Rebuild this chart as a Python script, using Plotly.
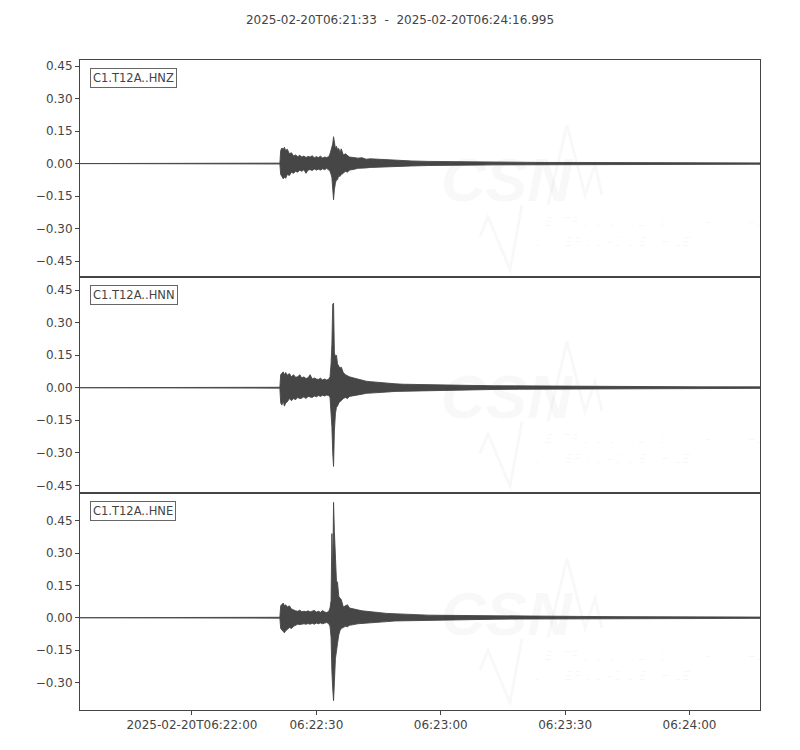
import plotly.graph_objects as go
from plotly.subplots import make_subplots
import pandas as pd

# ---------------- data ----------------
TITLE = "2025-02-20T06:21:33\u00a0\u00a0-\u00a0\u00a02025-02-20T06:24:16.995"
START = "2025-02-20 06:21:33"
END = "2025-02-20 06:24:16.995"
channels = ["C1.T12A..HNZ", "C1.T12A..HNN", "C1.T12A..HNE"]

# seconds after START at which the envelope of each trace was read
t_offsets = [0, 48.2, 48.4, 48.7, 49.0, 49.3, 49.6, 50.0, 50.5, 51, 51.5, 52, 52.5, 53, 53.5,
             54, 54.5, 55, 55.5, 56, 56.5, 57, 57.5, 58, 58.5, 59, 59.5, 60, 60.3, 60.55,
             60.75, 60.95, 61.15, 61.35, 61.6, 61.85, 62.1, 62.4, 62.7, 63, 63.5, 64, 64.5,
             65, 66, 67, 68, 69, 70, 72, 74, 76, 78, 80, 84, 88, 92, 96, 100, 106, 112,
             120, 130, 140, 150, 163.995]

hnz_upper = [0, 0.002, 0.06, 0.072, 0.065, 0.075, 0.06, 0.066, 0.045, 0.05, 0.035, 0.04, 0.032,
             0.038, 0.03, 0.035, 0.028, 0.033, 0.03, 0.036, 0.027, 0.032, 0.028, 0.034, 0.026,
             0.03, 0.028, 0.032, 0.045, 0.06, 0.075, 0.09, 0.124, 0.085, 0.07, 0.08, 0.065,
             0.07, 0.05, 0.068, 0.04, 0.045, 0.035, 0.03, 0.028, 0.025, 0.027, 0.02, 0.022,
             0.02, 0.016, 0.017, 0.013, 0.012, 0.01, 0.009, 0.008, 0.007, 0.006, 0.006,
             0.005, 0.005, 0.004, 0.004, 0.003, 0.003]
hnz_lower = [0, -0.002, -0.05, -0.06, -0.07, -0.062, -0.068, -0.05, -0.055, -0.04, -0.045,
             -0.035, -0.04, -0.03, -0.036, -0.028, -0.045, -0.03, -0.028, -0.032, -0.025,
             -0.03, -0.026, -0.03, -0.024, -0.028, -0.022, -0.03, -0.035, -0.05, -0.065,
             -0.10, -0.167, -0.12, -0.09, -0.075, -0.075, -0.055, -0.06, -0.05, -0.045,
             -0.035, -0.04, -0.03, -0.027, -0.022, -0.02, -0.02, -0.018, -0.017, -0.015,
             -0.013, -0.012, -0.011, -0.009, -0.008, -0.007, -0.007, -0.006, -0.005,
             -0.005, -0.004, -0.004, -0.003, -0.003, -0.003]

hnn_upper = [0, 0.002, 0.06, 0.065, 0.073, 0.06, 0.07, 0.058, 0.065, 0.05, 0.06, 0.048, 0.05,
             0.06, 0.045, 0.05, 0.042, 0.046, 0.06, 0.04, 0.045, 0.04, 0.038, 0.044, 0.036,
             0.04, 0.035, 0.04, 0.05, 0.11, 0.2, 0.385, 0.39, 0.16, 0.145, 0.15, 0.11, 0.1,
             0.09, 0.095, 0.07, 0.06, 0.055, 0.05, 0.045, 0.04, 0.032, 0.03, 0.028, 0.024,
             0.02, 0.018, 0.016, 0.015, 0.013, 0.012, 0.011, 0.01, 0.009, 0.008, 0.007,
             0.006, 0.005, 0.005, 0.004, 0.004]
hnn_lower = [0, -0.002, -0.07, -0.08, -0.06, -0.085, -0.07, -0.065, -0.05, -0.06, -0.05,
             -0.055, -0.045, -0.05, -0.048, -0.042, -0.05, -0.04, -0.044, -0.045, -0.038,
             -0.042, -0.036, -0.04, -0.035, -0.038, -0.034, -0.036, -0.045, -0.08, -0.18,
             -0.3, -0.363, -0.2, -0.12, -0.09, -0.085, -0.07, -0.065, -0.06, -0.05, -0.045,
             -0.05, -0.04, -0.036, -0.034, -0.03, -0.026, -0.025, -0.022, -0.02, -0.017,
             -0.015, -0.014, -0.012, -0.011, -0.01, -0.009, -0.008, -0.007, -0.006, -0.006,
             -0.005, -0.004, -0.004, -0.003]

hne_upper = [0, 0.002, 0.055, 0.06, 0.068, 0.055, 0.06, 0.05, 0.055, 0.04, 0.035, 0.032, 0.03,
             0.035, 0.028, 0.03, 0.028, 0.032, 0.027, 0.03, 0.034, 0.026, 0.03, 0.025, 0.033,
             0.027, 0.024, 0.03, 0.045, 0.08, 0.39, 0.2, 0.535, 0.4, 0.245, 0.17, 0.165, 0.1,
             0.09, 0.085, 0.05, 0.055, 0.06, 0.045, 0.04, 0.035, 0.032, 0.03, 0.027, 0.024,
             0.02, 0.018, 0.015, 0.014, 0.012, 0.011, 0.01, 0.009, 0.008, 0.007, 0.006,
             0.006, 0.005, 0.004, 0.004, 0.003]
hne_lower = [0, -0.002, -0.05, -0.055, -0.063, -0.07, -0.06, -0.055, -0.045, -0.05, -0.04,
             -0.035, -0.03, -0.032, -0.03, -0.028, -0.03, -0.027, -0.03, -0.026, -0.03,
             -0.025, -0.028, -0.024, -0.028, -0.025, -0.022, -0.028, -0.04, -0.09, -0.25,
             -0.33, -0.385, -0.3, -0.19, -0.17, -0.12, -0.08, -0.06, -0.05, -0.045, -0.04,
             -0.042, -0.035, -0.032, -0.028, -0.026, -0.024, -0.022, -0.02, -0.018, -0.015,
             -0.013, -0.012, -0.01, -0.009, -0.008, -0.008, -0.007, -0.006, -0.005, -0.005,
             -0.004, -0.004, -0.003, -0.003]

uppers = [hnz_upper, hnn_upper, hne_upper]
lowers = [hnz_lower, hnn_lower, hne_lower]

y_ranges = [[-0.522, 0.478], [-0.487, 0.512], [-0.428, 0.577]]
y_ticks = [[-0.45, -0.30, -0.15, 0.0, 0.15, 0.30, 0.45],
           [-0.45, -0.30, -0.15, 0.0, 0.15, 0.30, 0.45],
           [-0.30, -0.15, 0.0, 0.15, 0.30, 0.45]]

x_tick_vals = ["2025-02-20 06:22:00", "2025-02-20 06:22:30", "2025-02-20 06:23:00",
               "2025-02-20 06:23:30", "2025-02-20 06:24:00"]
x_tick_text = ["2025-02-20T06:22:00", "06:22:30", "06:23:00", "06:23:30", "06:24:00"]

# ---------------- figure ----------------
INK = "#444444"
WAVE = "#464646"
FONT = "DejaVu Sans"

times = pd.Timestamp(START) + pd.to_timedelta(t_offsets, unit="s")
tstr = [t.strftime("%Y-%m-%d %H:%M:%S.%f")[:-3] for t in times]

fig = make_subplots(rows=3, cols=1, shared_xaxes=True, vertical_spacing=0)

for i in range(3):
    up, lo = uppers[i], lowers[i]
    xs = tstr + tstr[::-1]
    ys = up + lo[::-1]
    fig.add_trace(go.Scatter(x=xs, y=ys, mode="lines", fill="toself",
                             fillcolor=WAVE, line=dict(color=WAVE, width=0.9),
                             hoverinfo="skip", showlegend=False), row=i + 1, col=1)

for i in range(3):
    r = i + 1
    fig.update_yaxes(row=r, col=1, range=y_ranges[i], tickvals=y_ticks[i], tickformat=".2f",
                     ticks="outside", ticklen=4, tickcolor=INK, tickwidth=1,
                     showline=True, mirror=True, linecolor=INK, linewidth=1,
                     showgrid=False, zeroline=False,
                     tickfont=dict(family=FONT, size=12, color=INK))
    fig.update_xaxes(row=r, col=1, type="date", range=[START, END],
                     showline=True, mirror=True, linecolor=INK, linewidth=1,
                     showgrid=False, zeroline=False,
                     tickvals=x_tick_vals, ticktext=x_tick_text,
                     ticks="outside" if r == 3 else "", ticklen=4, tickcolor=INK,
                     showticklabels=(r == 3),
                     tickfont=dict(family=FONT, size=12, color=INK))

annotations = []
shapes = []
WM = "rgba(0,0,0,0.028)"
for i in range(3):
    ax = "" if i == 0 else str(i + 1)
    xr, yr = f"x{ax} domain", f"y{ax} domain"
    annotations.append(dict(text=channels[i], xref=xr, yref=yr, x=0.014, y=0.963,
                            xanchor="left", yanchor="top", showarrow=False,
                            font=dict(family=FONT, size=11.5, color=INK),
                            bgcolor="white", bordercolor="#666666", borderwidth=1,
                            borderpad=2))
    # faint CSN watermark
    annotations.append(dict(text="<b><i>CSN</i></b>", xref=xr, yref=yr, x=0.628, y=0.447,
                            xanchor="center", yanchor="middle", showarrow=False,
                            font=dict(family="Liberation Sans", size=62, color=WM)))
    annotations.append(dict(text="<i>CENTRO SISMOLÓGICO NACIONAL</i>", xref=xr, yref=yr,
                            x=0.665, y=0.253, xanchor="left", yanchor="middle",
                            showarrow=False,
                            font=dict(family="Liberation Sans", size=13.5, color=WM)))
    annotations.append(dict(text="<i>UNIVERSIDAD DE CHILE</i>", xref=xr, yref=yr,
                            x=0.662, y=0.161, xanchor="left", yanchor="middle",
                            showarrow=False,
                            font=dict(family="Liberation Sans", size=13.5, color=WM)))
    pts1 = [(480, 237), (488, 217), (510, 270), (522, 205)]
    pts2 = [(548, 205), (567, 125), (585, 195), (595, 165), (602, 195)]
    for pts in (pts1, pts2):
        path = ""
        for k, (px, py) in enumerate(pts):
            dx = (px - 80) / 680
            dy = 1 - (py - 60) / 217
            path += ("M" if k == 0 else " L") + f"{dx:.4f},{dy:.4f}"
        shapes.append(dict(type="path", path=path, xref=xr, yref=yr,
                           line=dict(color=WM, width=3), layer="below"))

# the page body adds an 8 px offset; margins compensate so the plot sits at 80..760 x 60..710
fig.update_layout(
    width=800, height=750,
    margin=dict(l=72, r=48, t=52, b=48),
    paper_bgcolor="white", plot_bgcolor="white",
    title=dict(text=TITLE, x=(400 - 8) / 800, xanchor="center", y=1 - 12 / 750,
               yanchor="middle", font=dict(family=FONT, size=12, color=INK)),
    annotations=annotations,
    shapes=shapes,
    showlegend=False,
)

fig.write_html("out.html")
